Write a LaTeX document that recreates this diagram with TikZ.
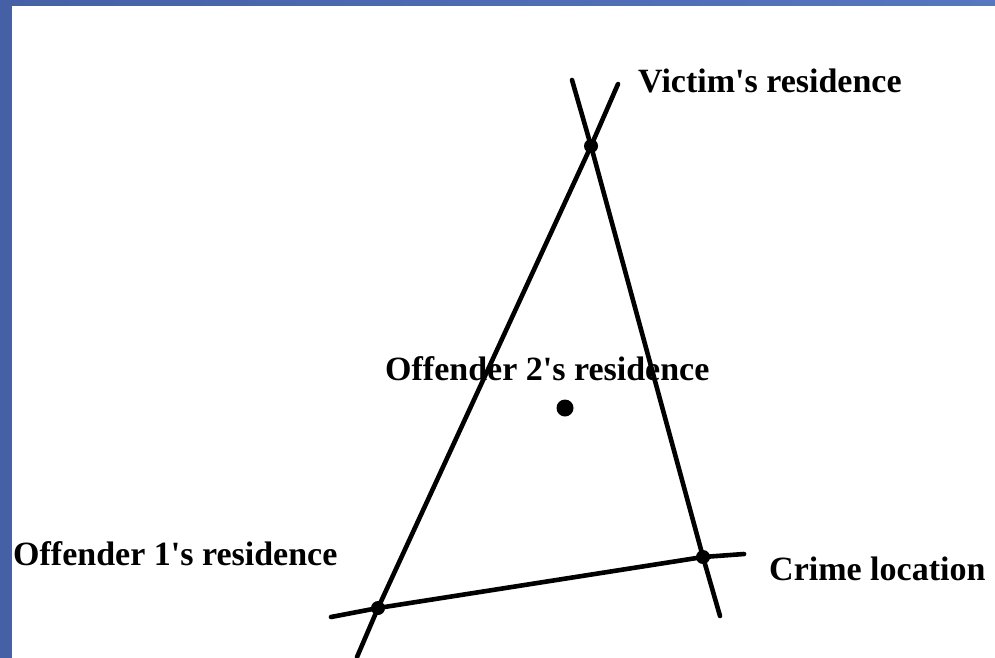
\documentclass[tikz,border=0pt]{standalone}
\usepackage{fontspec}
\setmainfont{Liberation Serif}
\usetikzlibrary{positioning}
\definecolor{slideblueA}{HTML}{4660A6}
\definecolor{slideblueB}{HTML}{5676C0}

\begin{document}
\begin{tikzpicture}[
  x=1pt, y=-1pt,
  font=\fontsize{34}{38}\selectfont\bfseries,
  lbl/.style={anchor=base west, inner sep=0pt},
  road/.style={line width=4.6pt, line cap=round},
  spot/.style={circle, fill=black, inner sep=0pt, minimum size=14pt},
  bigspot/.style={circle, fill=black, inner sep=0pt, minimum size=17pt}
]
\useasboundingbox (0,0) rectangle (995,657);
\shade[left color=slideblueA, right color=slideblueB] (0,0) rectangle (995,657);
\fill[white] (12,6) rectangle (996,658);

\coordinate (victim) at (591,146);
\coordinate (off1) at (378,608);
\coordinate (crime) at (703,557);
\coordinate (off2) at (565,408);

\coordinate (aTop) at (618,84);
\coordinate (aBot) at (357,657);
\coordinate (bTop) at (572,80);
\coordinate (bBot) at (720,616);
\coordinate (cLeft) at (331,617);
\coordinate (cRight) at (744,554);

\draw[road] (aBot) -- (off1) -- (victim) -- (aTop);
\draw[road] (bTop) -- (victim) -- (crime) -- (bBot);
\draw[road] (cLeft) -- (off1) -- (crime) -- (cRight);

\node[spot] (victimdot) at (victim) {};
\node[spot] (off1dot) at (off1) {};
\node[spot] (crimedot) at (crime) {};
\node[bigspot] (off2dot) at (off2) {};

\node[lbl] (victimlbl) at (638,92) {Victim\textquotesingle s residence};
\node[lbl] (off2lbl) at (385,380) {Offender 2\textquotesingle s residence};
\node[lbl] (off1lbl) at (13,565) {Offender 1\textquotesingle s residence};
\node[lbl] (crimelbl) at (769,580) {Crime location};
\end{tikzpicture}
\end{document}
